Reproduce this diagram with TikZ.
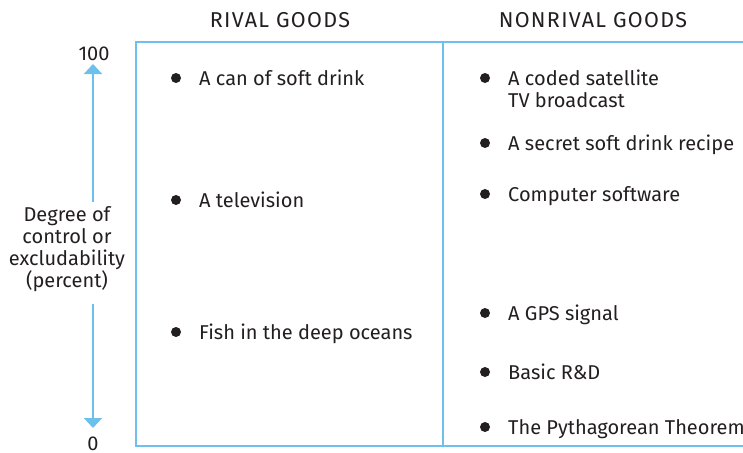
\documentclass[tikz,border=0pt]{standalone}
\usepackage{fontspec}
\setmainfont{Fira Sans}
\usetikzlibrary{arrows.meta}
\definecolor{axisblue}{RGB}{108,192,235}
\definecolor{ink}{RGB}{35,31,32}
\begin{document}
\begin{tikzpicture}[x=1pt,y=-1pt,
  frame/.style={draw=axisblue,line width=2pt},
  axisline/.style={draw=axisblue,line width=2pt,-{Triangle[length=10pt,width=18pt]}},
  head/.style={anchor=base,text=ink,font=\fontsize{21.5}{24}\selectfont\addfontfeatures{LetterSpace=6}},
  good/.style={anchor=base west,text=ink,align=left,inner sep=0pt,
    font=\fontsize{20}{22}\selectfont},
  dot/.style={circle,fill=ink,inner sep=0pt,minimum size=10pt}]
  \useasboundingbox (0,0) rectangle (743,452);
  \clip (0,0) rectangle (743,452);
  \draw[frame] (136,42) rectangle (760,446);
  \draw[frame] (443,42) -- (443,446);
  \node[head] (rival) at (280,28) {RIVAL GOODS};
  \node[head] (nonrival) at (593,28) {NONRIVAL GOODS};
  % scale on the left
  \node[good,anchor=base] (high) at (94,60) {100};
  \node[good,anchor=base] (low) at (93,450) {0};
  \node[good,anchor=center,align=center] (degree) at (67,249)
    {Degree of\\control or\\excludability\\(percent)};
  \coordinate (upper) at (93,202);
  \coordinate (lower) at (93,304);
  \coordinate (tophead) at (93,64);
  \coordinate (bottomhead) at (93,428);
  \draw[axisline] (upper) -- (tophead);
  \draw[axisline] (lower) -- (bottomhead);
  % goods
  \foreach \y/\txt [count=\i] in {78/A can of soft drink,200/A television,332/Fish in the deep oceans}{
    \node[dot] (rdot\i) at (176,\y) {};
    \node[good] (rgood\i) at (199,\y+7) {\txt};
  }
  \foreach \y/\b/\txt [count=\i] in {78/107/{A coded satellite\\TV broadcast},143/150/A secret soft drink recipe,
    194/201/Computer software,313/320/A GPS signal,372/379/Basic R\&D,427/434/The Pythagorean Theorem}{
    \node[dot] (ndot\i) at (485,\y) {};
    \node[good] (ngood\i) at (508,\b) {\txt};
  }
\end{tikzpicture}
\end{document}
